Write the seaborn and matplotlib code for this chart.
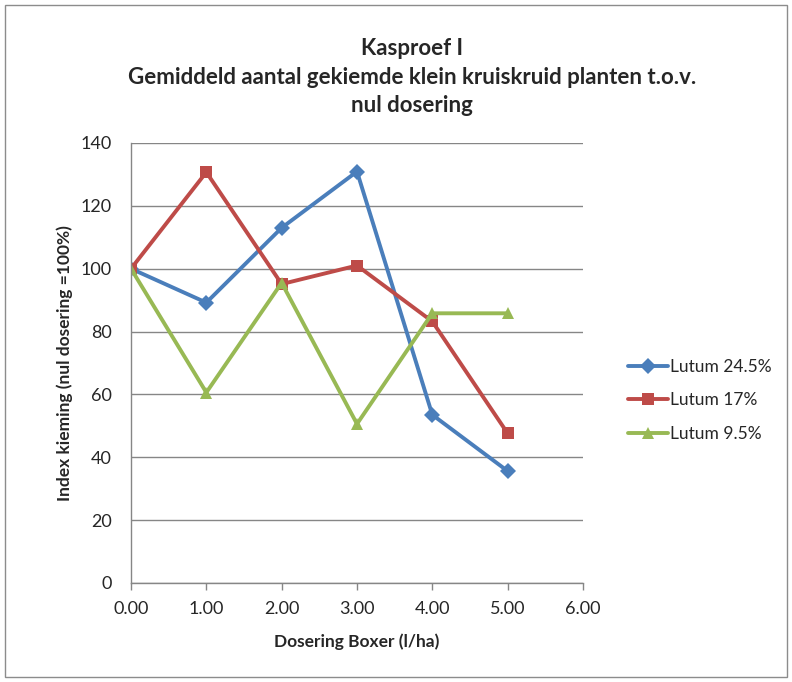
import matplotlib
matplotlib.use("Agg")
import matplotlib.pyplot as plt
import pandas as pd
import seaborn as sns
from matplotlib.patches import Rectangle

DOSERING = [0.0, 1.0, 2.0, 3.0, 4.0, 5.0]
LUTUM_245 = [100.0, 89.2, 113.0, 130.9, 53.5, 35.6]
LUTUM_17 = [100.0, 130.7, 95.1, 101.0, 83.2, 47.6]
LUTUM_95 = [100.0, 60.6, 95.5, 50.6, 85.8, 85.8]
SERIES = ["Lutum 24.5%", "Lutum 17%", "Lutum 9.5%"]
COLORS = ["#4a7ebb", "#be4b48", "#98b954"]
MARKERS = ["D", "s", "^"]

TITLE = "Kasproef I\nGemiddeld aantal gekiemde klein kruiskruid planten t.o.v.\nnul dosering"
X_LABEL = "Dosering Boxer (l/ha)"
Y_LABEL = "Index kieming (nul dosering =100%)"


def main():
    df = pd.DataFrame({
        "dosering": DOSERING * 3,
        "index": LUTUM_245 + LUTUM_17 + LUTUM_95,
        "serie": [s for s in SERIES for _ in DOSERING],
    })

    sns.set_style("white")
    plt.rcParams["font.family"] = ["Lato", "DejaVu Sans"]

    fig = plt.figure(figsize=(7.92, 6.82), dpi=100)
    fig.patches.append(Rectangle((0.006, 0.008), 0.988, 0.985, transform=fig.transFigure,
                                 fill=False, edgecolor="#8c8c8c", linewidth=1.0))
    ax = fig.add_axes([0.1654, 0.1452, 0.5707, 0.6452])

    sns.lineplot(data=df, x="dosering", y="index", hue="serie", style="serie",
                 palette=COLORS, markers=MARKERS, dashes=False, linewidth=2.8,
                 markersize=8, markeredgewidth=0, ax=ax)

    ax.set_xlim(0, 6)
    ax.set_ylim(0, 140)
    ax.set_xticks(range(0, 7))
    ax.set_xticklabels([f"{v:.2f}" for v in range(0, 7)], fontsize=13)
    ax.set_yticks(range(0, 141, 20))
    ax.set_yticklabels([str(v) for v in range(0, 141, 20)], fontsize=13)
    ax.tick_params(axis="x", direction="out", length=5, width=1, color="#868686",
                   bottom=True, pad=8)
    ax.tick_params(axis="y", length=0, left=True, pad=14)
    ax.yaxis.grid(True, color="#868686", linewidth=1)
    ax.xaxis.grid(False)
    for side in ["top", "right"]:
        ax.spines[side].set_visible(False)
    for side in ["left", "bottom"]:
        ax.spines[side].set_color("#868686")
        ax.spines[side].set_linewidth(1)

    ax.set_xlabel(X_LABEL, fontsize=12.5, fontweight="bold", labelpad=12)
    ax.set_ylabel(Y_LABEL, fontsize=12.5, fontweight="bold", labelpad=5)
    fig.text(0.52, 0.887, TITLE, ha="center", va="center", fontsize=16,
             fontweight="bold", linespacing=1.45)

    ax.legend(title=None, frameon=False, fontsize=12.5, loc="center left",
              bbox_to_anchor=(1.065, 0.415), handlelength=2.3, labelspacing=1.0,
              handletextpad=0.1)

    fig.savefig("out.png", dpi=100)


if __name__ == "__main__":
    main()
